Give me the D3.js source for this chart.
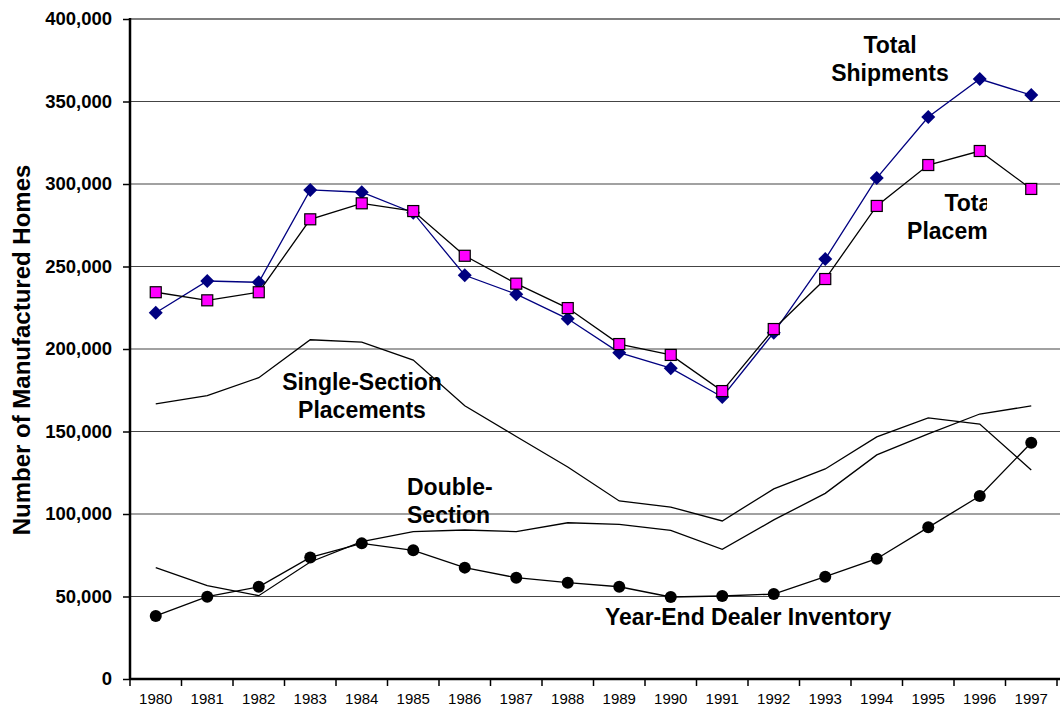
<!DOCTYPE html>
<html>
  <head>
    <meta http-equiv="Content-Type" content="text/html;charset=utf-8">
    <script src="https://d3js.org/d3.v7.min.js"></script>
    <style>
      body { margin: 0; background: #fff; }
      text { font-family: "Liberation Sans", Arial, sans-serif; }
    </style>
  </head>
  <body>
    <svg id="chart" width="1060" height="711"></svg>
    <script type="text/javascript">

var years = [1980, 1981, 1982, 1983, 1984, 1985, 1986, 1987, 1988,
             1989, 1990, 1991, 1992, 1993, 1994, 1995, 1996, 1997];

var totalShipments = [222000, 241200, 240400, 296400, 295000, 282600, 244700, 233200, 218300,
                      197800, 188400, 170900, 209900, 254500, 303600, 340600, 363600, 353900];
var totalPlacements = [234400, 229500, 234400, 278600, 288300, 283600, 256500, 239600, 224800,
                       203000, 196400, 174500, 212100, 242400, 286700, 311500, 320000, 297000];
var singleSection = [166800, 171700, 182600, 205600, 204200, 193300, 165600, 147000, 128500,
                     107900, 104200, 95800, 115200, 127300, 146700, 158200, 154500, 126700];
var doubleSection = [67500, 56600, 50500, 70900, 83200, 89300, 90300, 89300, 94700,
                     93700, 90100, 78600, 96400, 112500, 135800, 148500, 160600, 165500];
var dealerInventory = [38200, 49900, 55900, 73700, 82200, 78000, 67500, 61400, 58400,
                       55900, 49700, 50300, 51500, 62000, 72900, 91900, 110900, 143200];

var yTicks = [0, 50000, 100000, 150000, 200000, 250000, 300000, 350000, 400000];

var svg = d3.select("#chart");
var plotLeft = 130, plotRight = 1057, plotTop = 19, plotBottom = 679;

var x = d3.scaleBand().domain(years).range([plotLeft, plotRight]);
var y = d3.scaleLinear().domain([0, 400000]).range([plotBottom, plotTop]);
function cx(d, i) { return x(years[i]) + x.bandwidth() / 2; }

// gridlines
svg.append("g").selectAll("line")
    .data(yTicks.filter(function(t) { return t > 0; }))
    .enter().append("line")
    .attr("x1", plotLeft).attr("x2", 1060)
    .attr("y1", function(d) { return y(d); })
    .attr("y2", function(d) { return y(d); })
    .style("stroke", function(d) { return d == 400000 ? "#000" : "#444"; })
    .style("stroke-width", 1.2);

// axes
var yAxis = svg.append("g")
    .attr("transform", "translate(" + plotLeft + ",0)")
    .call(d3.axisLeft(y).tickValues(yTicks).tickSize(7).tickPadding(11)
          .tickFormat(d3.format(",")));
yAxis.select(".domain").remove();
yAxis.selectAll("line").style("stroke", "#000").style("stroke-width", 1.5);
yAxis.selectAll("text")
    .style("font-size", "18.5px").style("font-weight", "bold").style("fill", "#000");

var xAxis = svg.append("g")
    .attr("transform", "translate(0," + plotBottom + ")")
    .call(d3.axisBottom(x).tickSize(0).tickPadding(14));
xAxis.select(".domain").remove();
xAxis.selectAll("text").style("font-size", "15px").style("fill", "#000");

// category separators on the x axis
svg.append("g").selectAll("line")
    .data(years.concat(["end"]))
    .enter().append("line")
    .attr("x1", function(d, i) { return plotLeft + i * x.bandwidth(); })
    .attr("x2", function(d, i) { return plotLeft + i * x.bandwidth(); })
    .attr("y1", plotBottom).attr("y2", plotBottom + 7)
    .style("stroke", "#000").style("stroke-width", 1.5);

svg.append("line").attr("x1", plotLeft).attr("x2", 1060).attr("y1", plotBottom).attr("y2", plotBottom)
    .style("stroke", "#000").style("stroke-width", 2.5);
svg.append("line").attr("x1", plotLeft).attr("x2", plotLeft).attr("y1", plotTop - 1).attr("y2", plotBottom + 1)
    .style("stroke", "#000").style("stroke-width", 2.5);

var line = d3.line().x(cx).y(function(d) { return y(d); });

function drawLine(data, color) {
  svg.append("path").datum(data)
    .attr("d", line)
    .style("fill", "none").style("stroke", color).style("stroke-width", 1.3);
}

drawLine(singleSection, "#000");
drawLine(doubleSection, "#000");

// dealer inventory
drawLine(dealerInventory, "#000");
svg.append("g").selectAll("circle")
    .data(dealerInventory).enter().append("circle")
    .attr("cx", cx).attr("cy", function(d) { return y(d); })
    .attr("r", 6).style("fill", "#000");

// total shipments
drawLine(totalShipments, "#000080");
svg.append("g").selectAll("path")
    .data(totalShipments).enter().append("path")
    .attr("d", d3.symbol().type(d3.symbolDiamond2).size(125))
    .attr("transform", function(d, i) { return "translate(" + cx(d, i) + "," + y(d) + ")"; })
    .style("fill", "#000080");

// total placements
drawLine(totalPlacements, "#000");
svg.append("g").selectAll("rect")
    .data(totalPlacements).enter().append("rect")
    .attr("x", function(d, i) { return cx(d, i) - 5.5; })
    .attr("y", function(d) { return y(d) - 5.5; })
    .attr("width", 11).attr("height", 11)
    .style("fill", "#ff00ff").style("stroke", "#000").style("stroke-width", 1.2);

// labels
function label(lines, xPos, yPos, anchor, clip) {
  var t = svg.append("text")
    .attr("x", xPos).attr("y", yPos)
    .attr("text-anchor", anchor)
    .style("font-size", "23px").style("font-weight", "bold").style("fill", "#000");
  if (clip) t.attr("clip-path", "url(#" + clip + ")");
  lines.forEach(function(s, i) {
    t.append("tspan").attr("x", xPos).attr("dy", i == 0 ? 0 : 28).text(s);
  });
}

svg.append("clipPath").attr("id", "plcClip")
  .append("rect").attr("x", 880).attr("y", 185).attr("width", 107).attr("height", 70);

label(["Total", "Shipments"], 890, 53, "middle");
label(["Total", "Placements"], 971, 211, "middle", "plcClip");
label(["Single-Section", "Placements"], 362, 390, "middle");
label(["Double-", "Section"], 407, 495, "start");
label(["Year-End Dealer Inventory"], 605, 625, "start");

svg.append("text")
    .attr("transform", "translate(30,350) rotate(-90)")
    .attr("text-anchor", "middle")
    .style("font-size", "24px").style("font-weight", "bold").style("fill", "#000")
    .text("Number of Manufactured Homes");

    </script>
  </body>
</html>
